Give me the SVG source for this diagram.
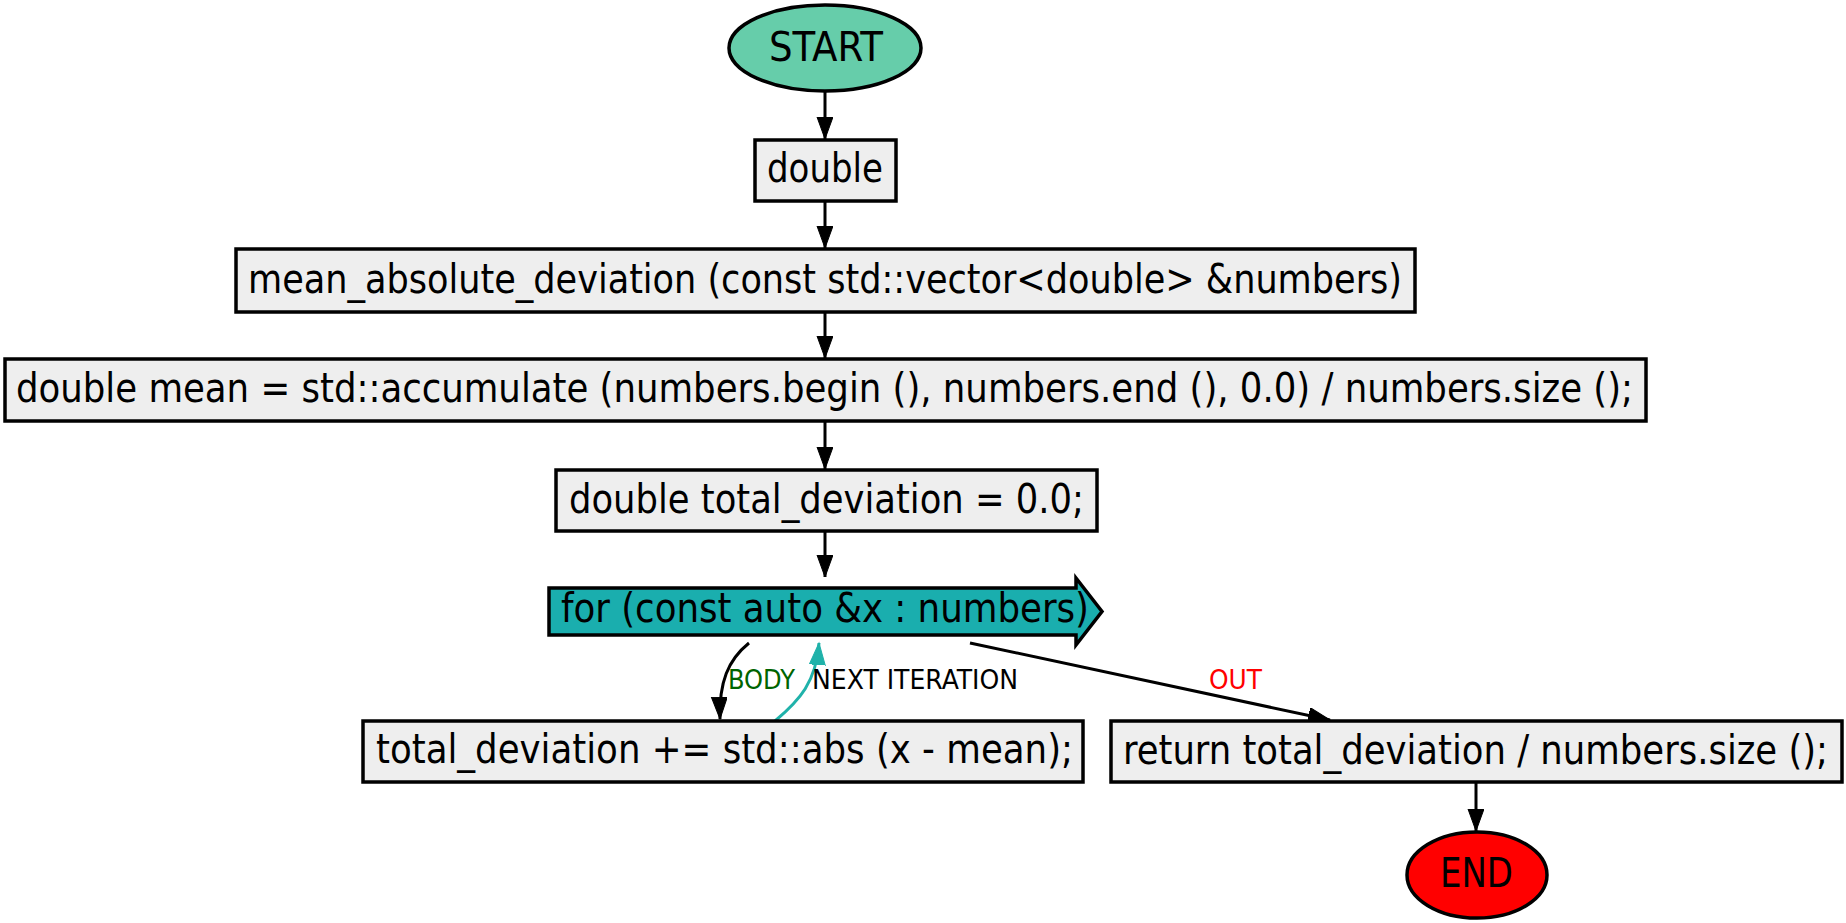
<svg xmlns="http://www.w3.org/2000/svg" width="1846" height="923" viewBox="0 0 1846 923">
<style>
  .box { fill: #eeeeee; stroke: #000; stroke-width: 3.5; }
  .t { font-family: 'DejaVu Sans Condensed', 'DejaVu Sans', sans-serif; font-stretch: condensed; font-size: 40px; fill: #000; }
  .lbl { font-family: 'DejaVu Sans Condensed', 'DejaVu Sans', sans-serif; font-stretch: condensed; font-size: 27px; }
  .edge { fill: none; stroke: #000; stroke-width: 3; }
  .edge.teal { stroke: #20b2aa; }
</style>
<defs>
  <marker id="ah" markerUnits="userSpaceOnUse" markerWidth="24" markerHeight="18" refX="22" refY="8" orient="auto">
    <path d="M0,0 L22,8 L0,16 z" fill="#000" stroke="#000" stroke-width="1"/>
  </marker>
  <marker id="ahTeal" markerUnits="userSpaceOnUse" markerWidth="24" markerHeight="18" refX="22" refY="8" orient="auto">
    <path d="M0,0 L22,8 L0,16 z" fill="#20b2aa" stroke="#20b2aa" stroke-width="1"/>
  </marker>
</defs>
<rect width="1846" height="923" fill="#fff"/>

<g id="connectors">
  <path class="edge" d="M825,92 L825,139" marker-end="url(#ah)"/>
  <path class="edge" d="M825,201 L825,248" marker-end="url(#ah)"/>
  <path class="edge" d="M825,312 L825,358" marker-end="url(#ah)"/>
  <path class="edge" d="M825,422 L825,469" marker-end="url(#ah)"/>
  <path class="edge" d="M825,532 L825,577" marker-end="url(#ah)"/>
  <path class="edge" d="M749,643 C728,660 719,682 720,719" marker-end="url(#ah)"/>
  <path class="edge teal" d="M775,721 C800,700 816,682 819,643" marker-end="url(#ahTeal)"/>
  <path class="edge" d="M970,643 L1330,720" marker-end="url(#ah)"/>
  <path class="edge" d="M1476,783 L1476,831" marker-end="url(#ah)"/>
  <text class="lbl" x="728" y="689" fill="#006400" textLength="67" lengthAdjust="spacingAndGlyphs">BODY</text>
  <text class="lbl" x="812" y="689" fill="#000" textLength="206" lengthAdjust="spacingAndGlyphs">NEXT ITERATION</text>
  <text class="lbl" x="1209" y="689" fill="#ff0000" textLength="53" lengthAdjust="spacingAndGlyphs">OUT</text>
</g>

<g id="start">
  <ellipse cx="825" cy="48" rx="96" ry="43" fill="#66cdaa" stroke="#000" stroke-width="3.5"/>
  <text class="t" x="769" y="61" textLength="114" lengthAdjust="spacingAndGlyphs">START</text>
</g>
<g id="n_double">
  <rect class="box" x="755" y="140" width="141" height="61"/>
  <text class="t" x="767" y="182" textLength="116" lengthAdjust="spacingAndGlyphs">double</text>
</g>
<g id="n_signature">
  <rect class="box" x="236" y="249" width="1179" height="63"/>
  <text class="t" x="248" y="293" textLength="1154" lengthAdjust="spacingAndGlyphs">mean_absolute_deviation (const std::vector&lt;double&gt; &amp;numbers)</text>
</g>
<g id="n_mean">
  <rect class="box" x="5" y="359" width="1641" height="62"/>
  <text class="t" x="16" y="402" textLength="1617" lengthAdjust="spacingAndGlyphs">double mean = std::accumulate (numbers.begin (), numbers.end (), 0.0) / numbers.size ();</text>
</g>
<g id="n_total">
  <rect class="box" x="556" y="470" width="541" height="61"/>
  <text class="t" x="569" y="513" textLength="515" lengthAdjust="spacingAndGlyphs">double total_deviation = 0.0;</text>
</g>
<g id="n_for">
  <polygon points="549,588 1076,588 1076,578 1102,611.5 1076,645 1076,635 549,635" fill="#1aaeae" stroke="#000" stroke-width="3.5"/>
  <text class="t" x="561" y="622" textLength="528" lengthAdjust="spacingAndGlyphs">for (const auto &amp;x : numbers)</text>
</g>
<g id="n_body">
  <rect class="box" x="363" y="721" width="720" height="61"/>
  <text class="t" x="376" y="763" textLength="697" lengthAdjust="spacingAndGlyphs">total_deviation += std::abs (x - mean);</text>
</g>
<g id="n_return">
  <rect class="box" x="1111" y="721" width="731" height="61"/>
  <text class="t" x="1123" y="764" textLength="705" lengthAdjust="spacingAndGlyphs">return total_deviation / numbers.size ();</text>
</g>
<g id="end">
  <ellipse cx="1477" cy="875" rx="70" ry="43" fill="#ff0000" stroke="#000" stroke-width="3.5"/>
  <text class="t" x="1440" y="887" textLength="73" lengthAdjust="spacingAndGlyphs">END</text>
</g>
</svg>
